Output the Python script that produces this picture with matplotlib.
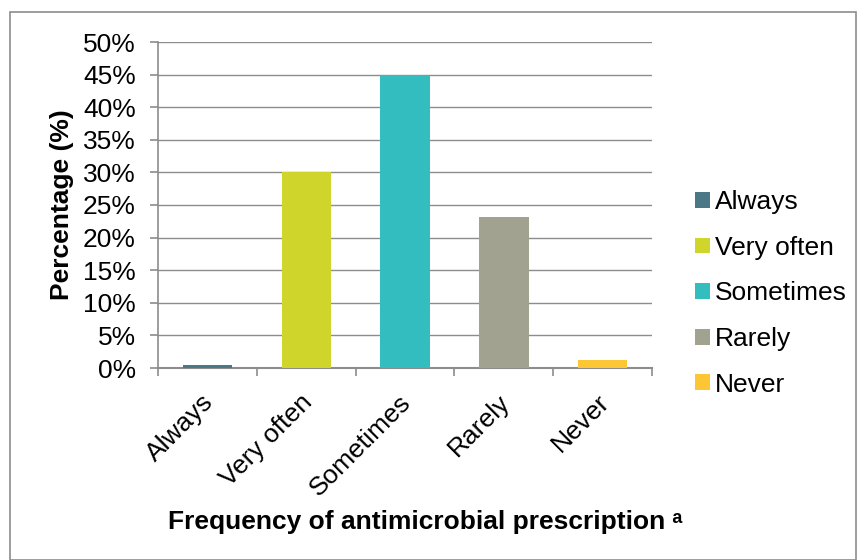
import matplotlib.pyplot as plt
from matplotlib.patches import Rectangle
from matplotlib.ticker import FuncFormatter, MultipleLocator

categories = ["Always", "Very often", "Sometimes", "Rarely", "Never"]
values = [0.4, 30.1, 45.0, 23.1, 1.3]
colors = ["#4a7886", "#cfd52a", "#33bdbf", "#a2a291", "#fdc634"]

plt.rcParams['font.family'] = ['Liberation Sans', 'DejaVu Sans']
FS = 19

fig = plt.figure(figsize=(8.62, 5.60), dpi=100)
W, H = 862, 560
ax = fig.add_axes([158 / W, 1 - 368 / H, (652 - 158) / W, (368 - 42) / H])

x = list(range(len(categories)))
bars = ax.bar(x, values, width=0.5, color=colors, label=categories, zorder=3)

ax.set_xlim(-0.5, len(categories) - 0.5)
ax.set_ylim(0, 50)
ax.yaxis.set_major_locator(MultipleLocator(5))
ax.yaxis.set_major_formatter(FuncFormatter(lambda v, p: f"{int(round(v))}%"))
ax.grid(axis='y', color='#8c8c8c', linewidth=1, zorder=0)

grey = '#8c8c8c'
for s in ['top', 'right']:
    ax.spines[s].set_visible(False)
ax.spines['left'].set_color(grey)
ax.spines['bottom'].set_color(grey)
ax.spines['left'].set_linewidth(1.2)
ax.spines['bottom'].set_linewidth(1.5)

# category separators as major ticks, rotated names as minor-tick labels
ax.set_xticks([i - 0.5 for i in range(len(categories) + 1)], minor=False)
ax.set_xticklabels([])
ax.set_xticks([i - 0.06 for i in x], minor=True)
ax.set_xticklabels(categories, minor=True, rotation=45, ha='right',
                   rotation_mode='anchor', fontsize=FS)
ax.tick_params(axis='x', which='major', length=6, color=grey, width=1.2)
ax.tick_params(axis='x', which='minor', length=0, pad=16)
ax.tick_params(axis='y', length=6, color=grey, width=1.2, labelsize=FS, pad=10)

fig.text(62 / W, 1 - 205 / H, "Percentage (%)", rotation=90, fontsize=FS,
         fontweight='bold', ha='center', va='center')
fig.text(425 / W, 1 - 522 / H, "Frequency of antimicrobial prescription ᵃ",
         fontsize=FS, fontweight='bold', ha='center', va='center')

leg = fig.legend(handles=bars, labels=categories, loc='upper left',
                 bbox_to_anchor=(682 / W, 1 - 177 / H), frameon=False,
                 fontsize=FS, handlelength=0.55, handleheight=0.55,
                 handletextpad=0.2, labelspacing=0.82, borderpad=0)

fig.patches.append(Rectangle((10 / W, 0), 846 / W, 1 - 12 / H,
                             transform=fig.transFigure, fill=False,
                             edgecolor='#8c8c8c', linewidth=1.2))

fig.savefig("out.png", dpi=100)
